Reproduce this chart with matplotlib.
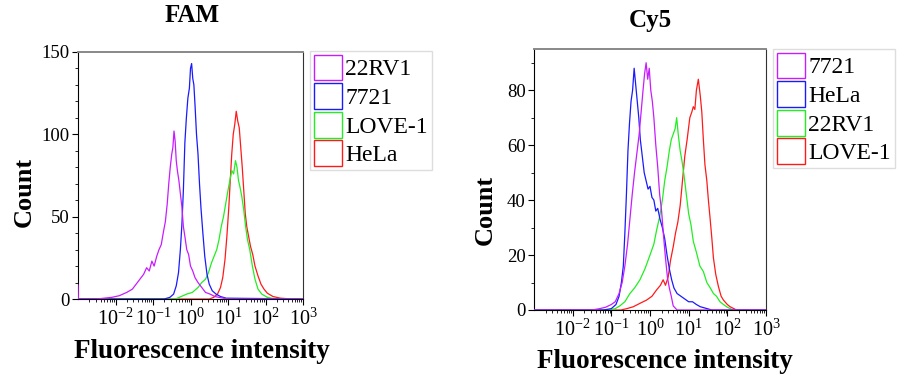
#!/usr/bin/env python3
"""Flow cytometry histograms (FAM / Cy5) for four cell lines."""

import matplotlib
matplotlib.use('Agg')
import matplotlib.pyplot as plt
from matplotlib.patches import Patch
from matplotlib.ticker import LogLocator, MultipleLocator, FixedLocator, NullFormatter
import numpy as np

plt.rcParams['font.family'] = ['Liberation Serif', 'DejaVu Serif']
plt.rcParams['mathtext.fontset'] = 'custom'
plt.rcParams['mathtext.rm'] = 'Liberation Serif'
plt.rcParams['mathtext.it'] = 'Liberation Serif:italic'
plt.rcParams['mathtext.bf'] = 'Liberation Serif:bold'

# ---- data: log10(intensity) and counts ----
# FAM panel
fam_22rv1_log = [-3.0, -2.99, -2.5, -2.1, -1.9, -1.7, -1.55, -1.45, -1.35, -1.25, -1.17, -1.10,
                 -1.03, -0.97, -0.90, -0.84, -0.78, -0.72, -0.67, -0.62, -0.58, -0.54, -0.50,
                 -0.47, -0.44, -0.41, -0.38, -0.35, -0.31, -0.27, -0.23, -0.19, -0.15, -0.10,
                 -0.05, 0.0, 0.06, 0.12, 0.2, 0.3, 0.4, 0.52, 0.65, 0.8, 1.0, 3.0]
fam_22rv1_cnt = [8.5, 0, 0, 1, 2, 4, 6, 9, 12, 15, 19, 17, 23, 20, 26, 30, 33, 41, 47, 58, 70, 80,
                 88, 92, 102, 96, 84, 78, 72, 64, 56, 44, 38, 30, 27, 20, 17, 13, 10, 7, 4, 3,
                 1.5, 0.8, 0, 0]

fam_7721_log = [-3, -0.7, -0.55, -0.45, -0.38, -0.32, -0.27, -0.23, -0.19, -0.15, -0.11, -0.07,
                -0.03, 0.0, 0.03, 0.06, 0.09, 0.12, 0.16, 0.2, 0.24, 0.28, 0.33, 0.38, 0.44,
                0.5, 0.58, 0.68, 0.8, 0.95, 3]
fam_7721_cnt = [0, 0, 1, 3, 8, 16, 30, 45, 66, 95, 110, 122, 128, 140, 143, 134, 130, 118, 100,
                88, 70, 55, 40, 26, 15, 9, 5, 3, 1.5, 0.5, 0]

fam_love1_log = [-3, -0.4, -0.25, -0.1, 0.05, 0.2, 0.3, 0.4, 0.48, 0.56, 0.63, 0.7, 0.76, 0.82,
                 0.88, 0.94, 1.0, 1.05, 1.1, 1.15, 1.2, 1.24, 1.28, 1.32, 1.37, 1.42, 1.47,
                 1.52, 1.58, 1.65, 1.72, 1.8, 1.9, 2.05, 2.2, 3]
fam_love1_cnt = [0, 0, 1.5, 3, 4, 7, 10, 12, 16, 22, 26, 30, 36, 44, 50, 58, 66, 72, 78, 76, 84,
                 80, 72, 68, 62, 54, 44, 36, 30, 20, 12, 6, 3, 1, 0.3, 0]

fam_hela_log = [-3, 0.5, 0.62, 0.72, 0.8, 0.86, 0.92, 0.97, 1.02, 1.06, 1.1, 1.14, 1.18, 1.22,
                1.26, 1.3, 1.34, 1.38, 1.42, 1.46, 1.5, 1.55, 1.6, 1.66, 1.72, 1.8, 1.88, 1.96,
                2.05, 2.2, 2.4, 2.7, 3]
fam_hela_cnt = [0, 0, 1, 3, 7, 13, 24, 38, 55, 72, 88, 100, 106, 114, 108, 104, 92, 80, 66, 52,
                44, 38, 32, 27, 20, 14, 9, 6, 3.5, 1.5, 0.5, 0, 0]

# Cy5 panel
cy5_7721_log = [-3, -1.5, -1.3, -1.15, -1.0, -0.9, -0.8, -0.72, -0.65, -0.58, -0.52, -0.46,
                -0.40, -0.34, -0.28, -0.23, -0.18, -0.14, -0.10, -0.06, -0.02, 0.02, 0.06,
                0.10, 0.15, 0.2, 0.25, 0.3, 0.35, 0.4, 0.45, 0.5, 0.55, 0.6, 0.7, 3]
cy5_7721_cnt = [0, 0, 0.5, 1, 2, 3, 6, 10, 16, 24, 33, 42, 50, 57, 64, 72, 80, 86, 90, 84, 88,
                80, 76, 70, 60, 52, 42, 36, 27, 19, 12, 8, 5, 1.5, 0, 0]

cy5_hela_log = [-3, -1.2, -1.0, -0.88, -0.8, -0.74, -0.69, -0.65, -0.61, -0.57, -0.53, -0.49,
                -0.45, -0.41, -0.37, -0.33, -0.29, -0.25, -0.2, -0.15, -0.1, -0.05, 0.0, 0.05,
                0.1, 0.15, 0.2, 0.26, 0.32, 0.38, 0.44, 0.5, 0.56, 0.62, 0.7, 0.8, 0.9, 1.0,
                1.1, 1.2, 1.3, 1.45, 1.6, 3]
cy5_hela_cnt = [0, 0, 0.5, 2, 5, 10, 16, 28, 42, 58, 68, 76, 80, 88, 82, 76, 70, 62, 56, 50, 47,
                44, 45, 41, 40, 36, 37, 33, 30, 26, 20, 15, 11, 8, 6, 5, 4, 3, 3, 2, 1.2, 0.6,
                0, 0]

cy5_22rv1_log = [-3, -1.05, -0.9, -0.78, -0.65, -0.52, -0.4, -0.26, -0.13, 0.0, 0.1, 0.17, 0.25,
                 0.32, 0.38, 0.44, 0.5, 0.55, 0.6, 0.65, 0.69, 0.73, 0.78, 0.83, 0.88, 0.94,
                 1.0, 1.06, 1.12, 1.2, 1.29, 1.38, 1.47, 1.56, 1.64, 1.72, 1.81, 1.9, 2.0,
                 2.15, 3]
cy5_22rv1_cnt = [0, 0, 0.5, 1.5, 3, 6, 8, 11, 15, 20, 24, 29, 34, 40, 47, 52, 58, 62, 64, 66,
                 70, 64, 58, 54, 49, 42, 35, 31, 25, 21, 16, 14, 10, 8, 6, 5, 3, 2, 1, 0, 0]

cy5_love1_log = [-3, -0.75, -0.6, -0.43, -0.25, -0.09, 0.05, 0.17, 0.27, 0.34, 0.4, 0.47, 0.53,
                 0.6, 0.66, 0.72, 0.78, 0.84, 0.9, 0.96, 1.03, 1.08, 1.12, 1.16, 1.2, 1.25,
                 1.3, 1.34, 1.38, 1.42, 1.47, 1.51, 1.55, 1.6, 1.64, 1.7, 1.77, 1.84, 1.9,
                 2.0, 2.07, 2.24, 3]
cy5_love1_cnt = [0, 0, 0.5, 1.2, 2.5, 3.6, 5, 7.3, 9, 11, 9, 12, 18, 23, 28, 32, 38, 47, 56, 62,
                 70, 72, 74, 73, 80, 84, 78, 72, 62, 53, 47, 40, 34, 26, 19, 13, 8.5, 5, 3.6,
                 2, 1.2, 0, 0]

MAGENTA, BLUE, GREEN, RED = '#c81cff', '#1a1aff', '#22ee22', '#ff1a1a'

panels = [
    dict(title='FAM', ylim=150, yticks=[0, 50, 100, 150],
         rect=[78 / 901, 84 / 383, 225 / 901, 247 / 383],
         legend_xy=(310 / 901, 1 - 51 / 383),
         title_xy=(192 / 901, 1 - 16 / 383), ylab_xy=(24 / 901, 1 - 192 / 383),
         xlab_xy=(202 / 901, 1 - 351 / 383),
         series=[('22RV1', MAGENTA, fam_22rv1_log, fam_22rv1_cnt),
                 ('7721', BLUE, fam_7721_log, fam_7721_cnt),
                 ('LOVE-1', GREEN, fam_love1_log, fam_love1_cnt),
                 ('HeLa', RED, fam_hela_log, fam_hela_cnt)]),
    dict(title='Cy5', ylim=95, yticks=[0, 20, 40, 60, 80],
         rect=[534 / 901, 73 / 383, 232 / 901, 261 / 383],
         legend_xy=(773 / 901, 1 - 49 / 383),
         title_xy=(650 / 901, 1 - 21 / 383), ylab_xy=(485 / 901, 1 - 210 / 383),
         xlab_xy=(665 / 901, 1 - 361 / 383),
         series=[('7721', MAGENTA, cy5_7721_log, cy5_7721_cnt),
                 ('HeLa', BLUE, cy5_hela_log, cy5_hela_cnt),
                 ('22RV1', GREEN, cy5_22rv1_log, cy5_22rv1_cnt),
                 ('LOVE-1', RED, cy5_love1_log, cy5_love1_cnt)]),
]

fig = plt.figure(figsize=(9.01, 3.83), dpi=100)

for p in panels:
    ax = fig.add_axes(p['rect'])
    # draw in reverse so the first legend entry sits on top
    for name, col, lg, cnt in reversed(p['series']):
        ax.plot(10 ** np.array(lg), cnt, color=col, lw=0.9, zorder=3)
    ax.set_xscale('log')
    ax.set_xlim(1e-3, 1e3)
    ax.set_ylim(0, p['ylim'])

    ax.xaxis.set_major_locator(FixedLocator([1e-2, 1e-1, 1e0, 1e1, 1e2, 1e3]))
    ax.set_xticklabels([r'$10^{-2}$', r'$10^{-1}$', r'$10^{0}$', r'$10^{1}$',
                        r'$10^{2}$', r'$10^{3}$'])
    ax.xaxis.set_minor_locator(LogLocator(base=10, subs=np.arange(2, 10), numticks=20))
    ax.xaxis.set_minor_formatter(NullFormatter())
    ax.set_yticks(p['yticks'])
    ax.yaxis.set_minor_locator(MultipleLocator(10))
    ax.tick_params(axis='both', which='major', direction='out', length=4, width=0.8,
                   labelsize=13.5, pad=2)
    ax.tick_params(axis='both', which='minor', direction='out', length=2, width=0.6)
    ax.tick_params(axis='x', which='major', labelsize=14.5, pad=3)

    ax.spines['top'].set_color('#888888')
    ax.spines['top'].set_linewidth(1.4)
    ax.spines['right'].set_color('#333333')
    ax.spines['left'].set_color('black')
    ax.spines['bottom'].set_color('black')

    handles = [Patch(facecolor='white', edgecolor=col, lw=1.0)
               for _, col, _, _ in p['series']]
    labels = [name for name, _, _, _ in p['series']]
    fig.legend(handles, labels, loc='upper left', bbox_to_anchor=p['legend_xy'],
               borderaxespad=0, fontsize=17, handlelength=1.2, handleheight=1.3,
               handletextpad=0.15, labelspacing=0.12, borderpad=0.15,
               fancybox=False, framealpha=1, edgecolor='#dddddd')

    fig.text(*p['title_xy'], p['title'], ha='center', va='center',
             fontsize=18, fontweight='bold')
    fig.text(*p['ylab_xy'], 'Count', ha='center', va='center', rotation=90,
             fontsize=19, fontweight='bold')
    fig.text(*p['xlab_xy'], 'Fluorescence intensity', ha='center', va='center',
             fontsize=19.5, fontweight='bold')

fig.savefig('out.png', dpi=100)
plt.close(fig)
